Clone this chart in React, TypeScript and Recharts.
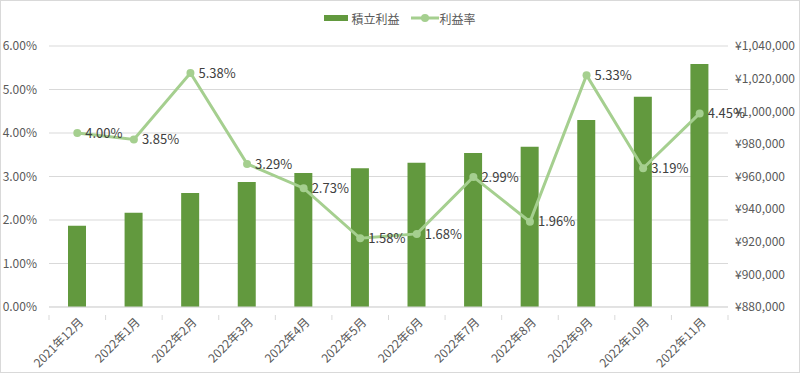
import { Bar, CartesianGrid, ComposedChart, LabelList, Legend, Line, XAxis, YAxis } from 'recharts'

const months = [
  '2021年12月', '2022年1月', '2022年2月', '2022年3月', '2022年4月', '2022年5月',
  '2022年6月', '2022年7月', '2022年8月', '2022年9月', '2022年10月', '2022年11月',
]
const profit = [929800, 937800, 949900, 956600, 962100, 965000, 968500, 974400, 978300, 994600, 1008900, 1029000]
const rate = [4.0, 3.85, 5.38, 3.29, 2.73, 1.58, 1.68, 2.99, 1.96, 5.33, 3.19, 4.45]
const leftTicks = [0, 1, 2, 3, 4, 5, 6]
const rightTicks = [880000, 900000, 920000, 940000, 960000, 980000, 1000000, 1020000, 1040000]

const data = months.map((name, i) => ({ name, profit: profit[i], rate: rate[i] }))

const BAR = '#62993e'
const LINE = '#a5cf8f'
const TEXT = '#595959'
const GRID = '#d9d9d9'
const FONT = '"Noto Sans CJK JP", "Noto Sans", sans-serif'

const W = 798
const H = 371
const PLOT_L = 48
const PLOT_R = 727
const band = (PLOT_R - PLOT_L) / months.length

function MonthTick(props: any) {
  const { x, y, payload, index } = props
  return (
    <g>
      <line x1={x - band / 2} y1={y} x2={x - band / 2} y2={y + 5} stroke={GRID} />
      {index === months.length - 1 && (
        <line x1={x + band / 2} y1={y} x2={x + band / 2} y2={y + 5} stroke={GRID} />
      )}
      <g transform={`translate(${x + 4},${y + 5})`}>
        <text transform="rotate(-45)" textAnchor="end" dy="0.35em" fill={TEXT} fontSize={12} fontFamily={FONT}>
          {payload.value}
        </text>
      </g>
    </g>
  )
}

function LegendBox() {
  return (
    <div style={{ height: 40, display: 'flex', justifyContent: 'center', alignItems: 'flex-start', paddingTop: 5, boxSizing: 'border-box', fontFamily: FONT, fontSize: 12, color: TEXT }}>
      <div style={{ display: 'flex', alignItems: 'center', height: 14, marginRight: 11 }}>
        <span style={{ width: 24, height: 6, background: BAR, display: 'inline-block', marginRight: 3 }} />
        <span>積立利益</span>
      </div>
      <div style={{ display: 'flex', alignItems: 'center', height: 14 }}>
        <svg width={28} height={10} style={{ marginRight: 1 }}>
          <line x1={0} y1={5} x2={28} y2={5} stroke={LINE} strokeWidth={3} />
          <circle cx={14} cy={5} r={4} fill={LINE} />
        </svg>
        <span>利益率</span>
      </div>
    </div>
  )
}

export default function App() {
  return (
    <div style={{ position: 'absolute', top: 0, left: 0, width: 800, height: 373, border: `1px solid ${GRID}`, boxSizing: 'border-box', background: '#fff' }}>
      <ComposedChart width={W} height={H} data={data} margin={{ top: 5, right: 0, left: 0, bottom: 0 }}>
        <Legend verticalAlign="top" align="center" content={() => <LegendBox />} />
        <CartesianGrid yAxisId="left" vertical={false} stroke={GRID} />
        <XAxis
          dataKey="name"
          height={65}
          interval={0}
          axisLine={{ stroke: GRID }}
          tickLine={false}
          tick={<MonthTick />}
        />
        <YAxis
          yAxisId="left"
          orientation="left"
          width={PLOT_L}
          domain={[0, 6]}
          ticks={leftTicks}
          tickFormatter={(v: number) => v.toFixed(2) + '%'}
          axisLine={false}
          tickLine={false}
          tickSize={0}
          tickMargin={12}
          tick={{ fill: TEXT, fontSize: 12, fontFamily: FONT }}
        />
        <YAxis
          yAxisId="right"
          orientation="right"
          width={W - PLOT_R}
          domain={[880000, 1040000]}
          ticks={rightTicks}
          allowDataOverflow
          tickFormatter={(v: number) => '¥' + v.toLocaleString('en-US')}
          axisLine={false}
          tickLine={false}
          tickSize={0}
          tickMargin={7}
          tick={{ fill: TEXT, fontSize: 12, fontFamily: FONT }}
        />
        <Bar yAxisId="right" dataKey="profit" fill={BAR} barSize={18} isAnimationActive={false} />
        <Line
          yAxisId="left"
          type="linear"
          dataKey="rate"
          stroke={LINE}
          strokeWidth={3}
          dot={{ r: 4, fill: LINE, stroke: LINE, strokeWidth: 0 }}
          activeDot={false}
          isAnimationActive={false}
        >
          <LabelList
            dataKey="rate"
            position="right"
            offset={8}
            formatter={(v: any) => Number(v).toFixed(2) + '%'}
            fill="#404040"
            fontSize={13}
            fontFamily={FONT}
          />
        </Line>
      </ComposedChart>
    </div>
  )
}
